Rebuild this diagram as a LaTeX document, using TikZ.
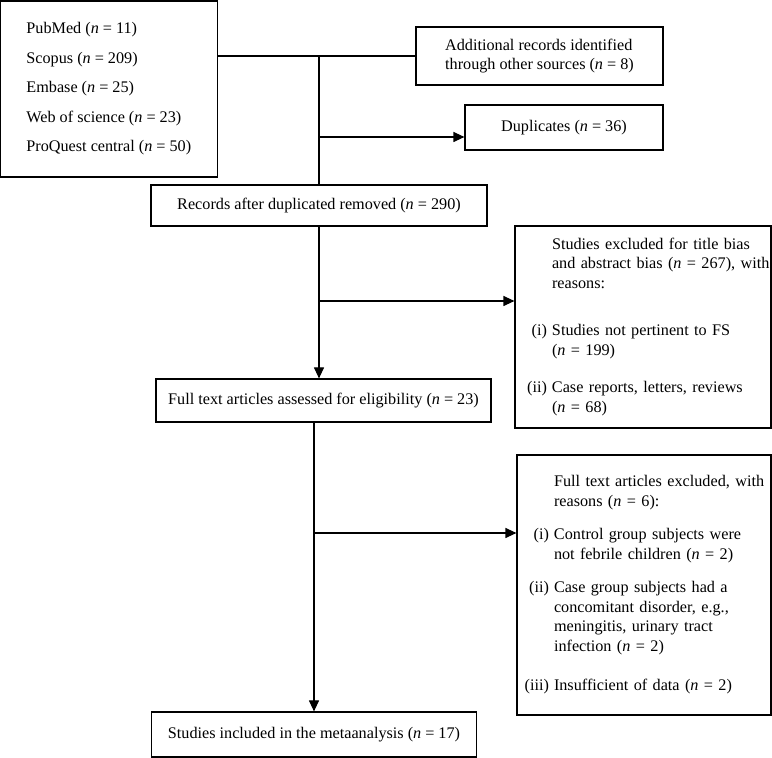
\documentclass[tikz,border=0pt]{standalone}
\usepackage{fontspec}
\setmainfont{Liberation Serif}
\usepackage{array}
\usetikzlibrary{arrows.meta}
\tikzstyle{box}=[draw, line width=.6pt, inner sep=0pt, align=center, font=\fontsize{8.1}{9.75}\selectfont]
\tikzstyle{flow}=[line width=.6pt]
\tikzstyle{flowarrow}=[line width=.6pt, -{Triangle[length=5.5pt,width=5pt]}]
\newcommand{\nn}[1]{(\textit{n}~=~#1)}
\newenvironment{reasons}{\begin{tabular}{@{}>{\raggedleft\arraybackslash}p{16pt}@{\hspace{2.5pt}}l@{}}}{\end{tabular}}

\begin{document}
\begin{tikzpicture}[x=.5pt,y=-.5pt]
	\useasboundingbox (0,0) rectangle (772,758);
	\node[box, minimum width=108.5pt, minimum height=88pt, align=left, font=\fontsize{8.1}{14.75}\selectfont] (db) at (108.8,89) {PubMed \nn{11}\\Scopus \nn{209}\\Embase \nn{25}\\Web of science \nn{23}\\ProQuest central \nn{50}};
	\node[box, minimum width=123.5pt, minimum height=29pt, align=left] (add) at (539.5,56) {Additional records identified\\through other sources \nn{8}};
	\node[box, minimum width=99pt, minimum height=22.5pt] (dup) at (564,127.5) {Duplicates \nn{36}};
	\node[box, minimum width=168pt, minimum height=20.5pt] (rec) at (319,205.5) {Records after duplicated removed \nn{290}};
	\node[box, minimum width=128pt, minimum height=101pt, text width=128pt, align=left] (excl1) at (643,327) {\begin{reasons}
		& Studies excluded for title bias\\
		& and abstract bias \nn{267}, with\\
		& reasons:\\[14pt]
		(i) & Studies not pertinent to FS\\
		& \nn{199}\\[9pt]
		(ii) & Case reports, letters, reviews\\
		& \nn{68}
	\end{reasons}};
	\node[box, minimum width=167.5pt, minimum height=21.5pt] (full) at (323.5,400.5) {Full text articles assessed for eligibility \nn{23}};
	\node[box, minimum width=127pt, minimum height=130pt, text width=127pt, align=left] (excl2) at (644,585) {\begin{reasons}
		& Full text articles excluded, with\\
		& reasons \nn{6}:\\[7pt]
		(i) & Control group subjects were\\
		& not febrile children \nn{2}\\[7pt]
		(ii) & Case group subjects had a\\
		& concomitant disorder, e.g.,\\
		& meningitis, urinary tract\\
		& infection \nn{2}\\[10pt]
		(iii) & Insufficient of data \nn{2}
	\end{reasons}};
	\node[box, minimum width=162.5pt, minimum height=22.5pt] (final) at (314,734.5) {Studies included in the metaanalysis \nn{17}};
	\coordinate (jdup) at (319,137);
	\coordinate (jex1) at (319,301);
	\coordinate (jex2) at (314,533);
	\draw[flow] (db.east |- add.west) -- (add.west);
	\draw[flow] (rec.north |- add.west) -- (rec.north);
	\draw[flowarrow] (jdup) -- (jdup -| dup.west);
	\draw[flowarrow] (rec.south) -- (rec.south |- full.north);
	\draw[flowarrow] (jex1) -- (jex1 -| excl1.west);
	\draw[flowarrow] (final.north |- full.south) -- (final.north);
	\draw[flowarrow] (jex2) -- (jex2 -| excl2.west);
\end{tikzpicture}
\end{document}
